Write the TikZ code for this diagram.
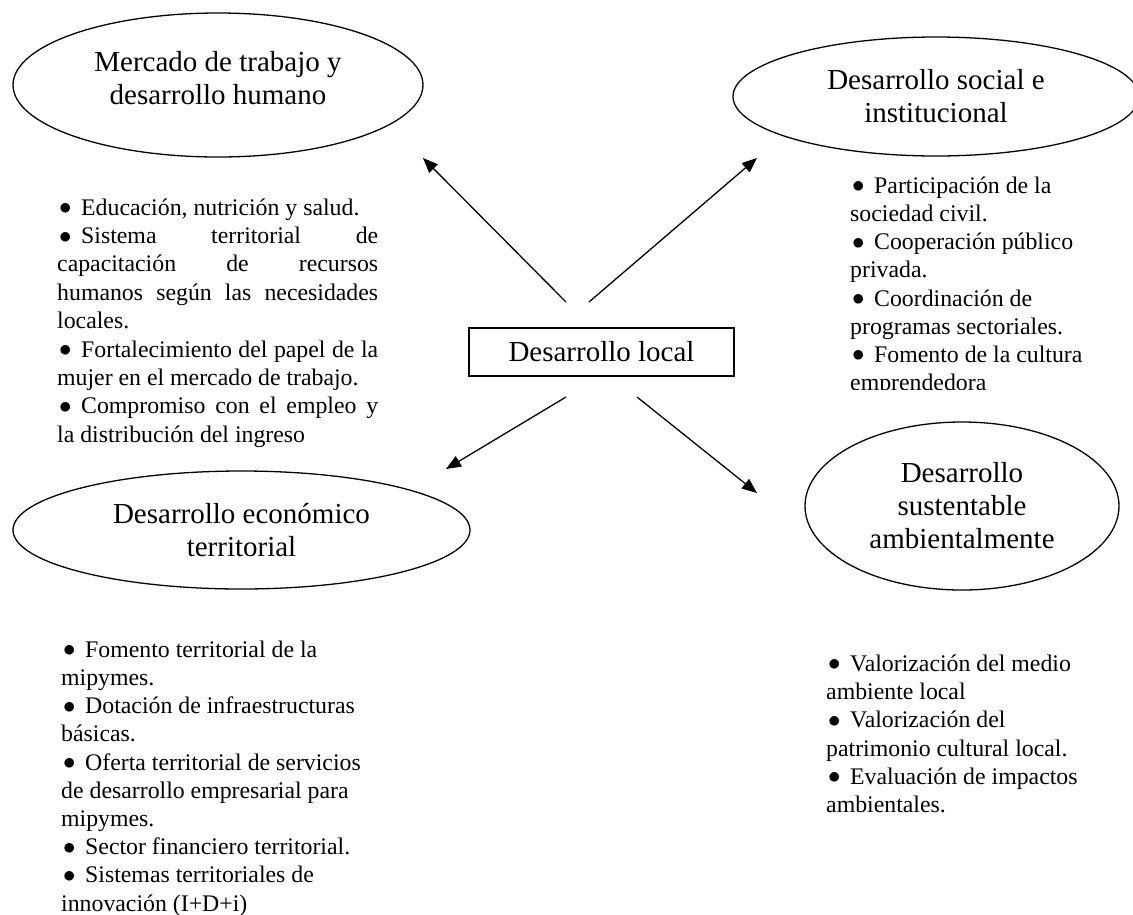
\documentclass[tikz,border=0pt]{standalone}
\usepackage{fontspec}
\setmainfont{Liberation Serif}
\usetikzlibrary{shapes.geometric}
\usetikzlibrary{arrows.meta}

\newcommand{\bul}{\makebox[24pt][l]{\hspace{2pt}\raisebox{0.5pt}{$\bullet$}}}
\newcommand{\jus}[1]{\makebox[321pt][s]{#1}}

\tikzset{
  tema/.style={draw, ellipse, line width=1.3pt, inner sep=0pt, align=center,
    font=\fontsize{29}{33}\selectfont},
  lista/.style={anchor=north west, inner sep=0pt, align=left,
    font=\fontsize{23.8}{28.2}\selectfont},
  flecha/.style={line width=1.3pt, -{Triangle[length=15pt,width=12pt]}}
}

\begin{document}
\begin{tikzpicture}[x=1pt, y=-1pt]
        \useasboundingbox (0, 0) rectangle (1133, 914);

        % los cuatro ejes
        \node[tema, minimum width=410pt, minimum height=144pt] (mercado) at (218, 85) {};
        \node[tema, draw=none] (mercadoTexto) at (218, 78)
            {Mercado de trabajo y\\desarrollo humano};
        \node[tema, minimum width=406pt, minimum height=119pt] (social) at (936, 96.5)
            {Desarrollo social e\\institucional};
        \node[tema, minimum width=457pt, minimum height=118pt] (economico) at (241.5, 530)
            {Desarrollo econ\'omico\\territorial};
        \node[tema, minimum width=314pt, minimum height=168pt] (ambiental) at (962, 506)
            {Desarrollo\\sustentable\\ambientalmente};

        % centro
        \node[draw, line width=1.3pt, inner sep=0pt, minimum width=265pt, minimum height=48pt,
            font=\fontsize{29}{33}\selectfont] (local) at (601.5, 352) {Desarrollo local};

        \coordinate (localNW) at (566, 302);
        \coordinate (localNE) at (589, 302);
        \coordinate (localSW) at (566, 397);
        \coordinate (localSE) at (637, 397);
        \coordinate (haciaMercado) at (423, 158);
        \coordinate (haciaSocial) at (757, 158);
        \coordinate (haciaEconomico) at (446, 469);
        \coordinate (haciaAmbiental) at (757, 493);

        \draw[flecha] (localNW) -- (haciaMercado);
        \draw[flecha] (localNE) -- (haciaSocial);
        \draw[flecha] (localSW) -- (haciaEconomico);
        \draw[flecha] (localSE) -- (haciaAmbiental);

        % listas
        \node[lista, font=\fontsize{23.8}{28.4}\selectfont] (listaMercado) at (57, 195.1) {%
            \strut\bul Educaci\'on, nutrici\'on y salud.\\
            \jus{\bul Sistema territorial de}\\
            \jus{capacitaci\'on de recursos}\\
            \jus{humanos seg\'un las necesidades}\\
            locales.\\
            \jus{\bul Fortalecimiento del papel de la}\\
            mujer en el mercado de trabajo.\\
            \jus{\bul Compromiso con el empleo y}\\
            la distribuci\'on del ingreso};

        \begin{scope}
            \clip (800, 150) rectangle (1133, 389);
            \node[lista] (listaSocial) at (850, 173.3) {%
                \strut\bul Participaci\'on de la\\
                sociedad civil.\\
                \bul Cooperaci\'on p\'ublico\\
                privada.\\
                \bul Coordinaci\'on de\\
                programas sectoriales.\\
                \bul Fomento de la cultura\\
                emprendedora};
        \end{scope}

        \node[lista] (listaEconomico) at (61, 637.3) {%
            \strut\bul Fomento territorial de la\\
            mipymes.\\
            \bul Dotaci\'on de infraestructuras\\
            b\'asicas.\\
            \bul Oferta territorial de servicios\\
            de desarrollo empresarial para\\
            mipymes.\\
            \bul Sector financiero territorial.\\
            \bul Sistemas territoriales de\\
            innovaci\'on (I+D+i)};

        \node[lista] (listaAmbiental) at (826, 651.5) {%
            \strut\bul Valorizaci\'on del medio\\
            ambiente local\\
            \bul Valorizaci\'on del\\
            patrimonio cultural local.\\
            \bul Evaluaci\'on de impactos\\
            ambientales.};
    \end{tikzpicture}
\end{document}
